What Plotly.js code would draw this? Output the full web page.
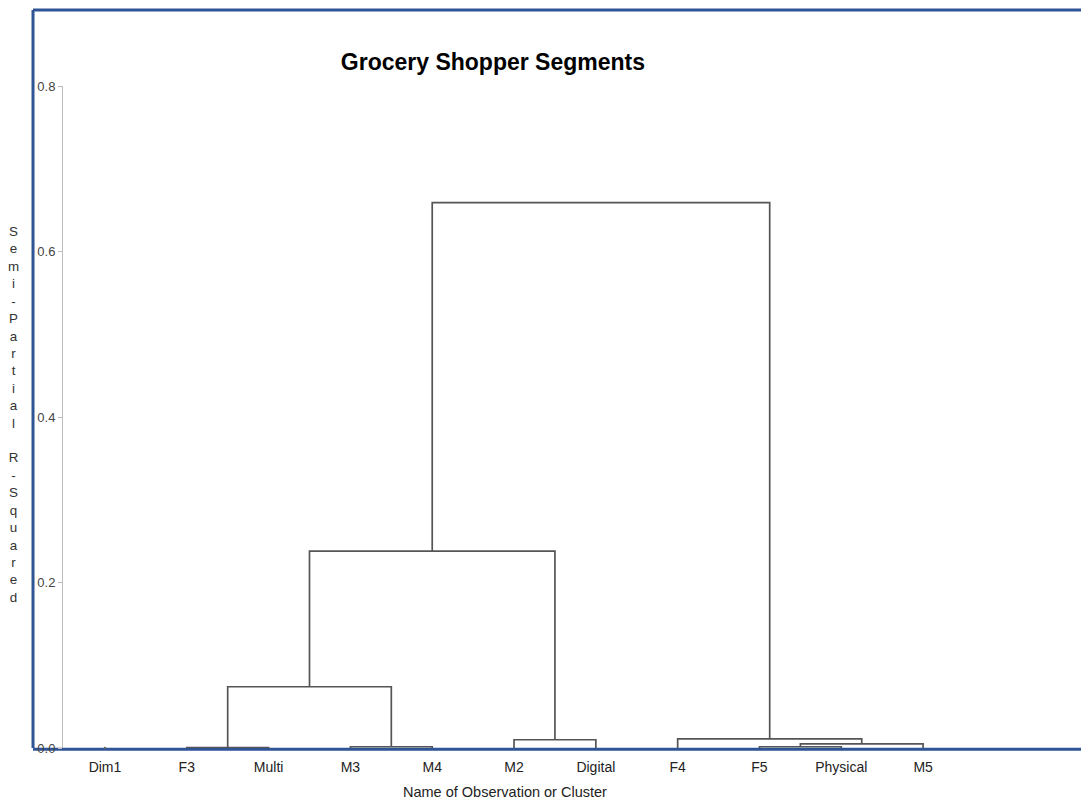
<!DOCTYPE html>
<html>
<head>
<meta charset="utf-8">
<script src="https://cdn.plot.ly/plotly-3.0.1.min.js"></script>
<style>
html,body{margin:0;padding:0;background:#fff;}
#chart{width:1081px;height:802px;}
</style>
</head>
<body>
<div id="chart"></div>
<script>
// Leaves in dendrogram order
const leaves = ['Dim1','F3','Multi','M3','M4','M2','Digital','F4','F5','Physical','M5'];
// Cluster joins (SAS-style history): CL1..CL9
const joinNames  = ['CL1','CL2','CL3','CL4','CL5','CL6','CL7','CL8','CL9'];
const joinA      = ['F3','M3','F5','CL3','M2','F4','CL1','CL7','CL8'];
const joinB      = ['Multi','M4','Physical','M5','Digital','CL4','CL2','CL5','CL6'];
const joinHeight = [0.0005,0.0015,0.0015,0.005,0.010,0.011,0.074,0.238,0.659];
const yTicks = [0,0.2,0.4,0.6,0.8];

// positions through leaf order
const pos = {}, hgt = {};
leaves.forEach((l,i)=>{pos[l]=i; hgt[l]=0;});
const xs=[], ys=[];
joinNames.forEach((n,i)=>{
  const a=joinA[i], b=joinB[i], h=joinHeight[i];
  xs.push(pos[a],pos[a],pos[b],pos[b],null);
  ys.push(hgt[a],h,h,hgt[b],null);
  pos[n]=(pos[a]+pos[b])/2; hgt[n]=h;
});
const joined = new Set([...joinA,...joinB]);
const single = leaves.filter(l=>!joined.has(l));

const traces = [
  {x:xs,y:ys,mode:'lines',type:'scatter',line:{color:'#555',width:1.7},hoverinfo:'skip',showlegend:false,cliponaxis:false},
  {x:single.map(l=>pos[l]),y:single.map(l=>0),mode:'markers',type:'scatter',marker:{color:'#666',size:2.5},showlegend:false,cliponaxis:false}
];

const yLetters = 'Semi-Partial R-Squared'.split('').map(c=>c===' '?'&nbsp;':c).join('<br>');
const blue='#2f5597';
const layout = {
  width:1081,height:802,
  margin:{l:63,r:81,t:86,b:54},
  paper_bgcolor:'#fff',plot_bgcolor:'#fff',
  font:{family:'Liberation Sans, Arial, sans-serif',color:'#333',size:12},
  title:{text:'<b>Grocery Shopper Segments</b>',x:0.456,xanchor:'center',y:0.923,yanchor:'middle',
         font:{family:'Liberation Sans, Arial, sans-serif',size:23,color:'#000'}},
  xaxis:{range:[-0.513,10.94],tickvals:leaves.map((l,i)=>i),ticktext:leaves,showgrid:false,zeroline:false,
         showline:false,ticks:'outside',ticklen:6,tickcolor:'rgba(0,0,0,0)',tickfont:{size:14,color:'#222'},fixedrange:true},
  yaxis:{range:[0,0.8],tickvals:yTicks,tickformat:'.1f',showgrid:false,zeroline:false,showline:true,linecolor:'#bbb',linewidth:1,
         ticks:'outside',ticklen:4,tickcolor:'#bbb',tickfont:{size:13,color:'#444'},fixedrange:true},
  annotations:[
    {xref:'paper',yref:'paper',x:-0.0523,y:0.504,xanchor:'center',yanchor:'middle',showarrow:false,
     text:yLetters,font:{size:13.4,color:'#333'}},
    {xref:'paper',yref:'paper',x:0.472,y:-0.066,xanchor:'center',yanchor:'middle',showarrow:false,
     text:'Name of Observation or Cluster',font:{size:14.5,color:'#222'}}
  ],
  shapes:[
    {type:'line',xref:'paper',yref:'paper',x0:-0.032,x1:1.09,y0:1.1148,y1:1.1148,line:{color:blue,width:3},layer:'above'},
    {type:'line',xref:'paper',yref:'paper',x0:-0.032,x1:-0.032,y0:1.1148,y1:0,line:{color:blue,width:3},layer:'above'},
    {type:'line',xref:'paper',yref:'paper',x0:-0.032,x1:1.09,y0:-0.002,y1:-0.002,line:{color:blue,width:3},layer:'below'}
  ]
};
Plotly.newPlot('chart',traces,layout,{displayModeBar:false,staticPlot:true});
</script>
</body>
</html>
